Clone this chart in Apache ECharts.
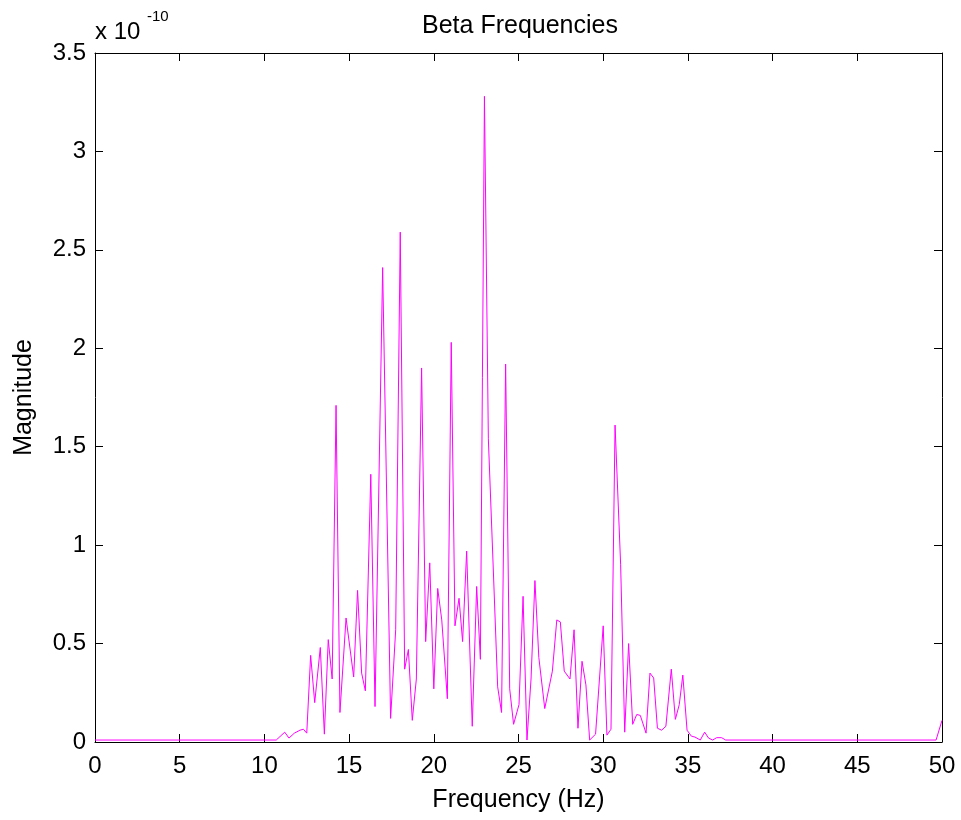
<!DOCTYPE html>
<html>
<head>
<meta charset="utf-8">
<title>Beta Frequencies</title>
<script src="https://cdn.jsdelivr.net/npm/echarts@6/dist/echarts.min.js"></script>
<style>
  html, body { margin: 0; padding: 0; background: #fff; }
  #chart { width: 961px; height: 820px; }
</style>
</head>
<body>
<div id="chart"></div>
<script>
// frequency (Hz)
let freqHz = [
  0, 10.7, 11.2, 11.45, 11.77, 12.1, 12.3, 12.5, 12.73, 12.97,
  13.3, 13.54, 13.77, 14.0, 14.23, 14.46, 14.82, 15.27, 15.5, 15.74,
  15.96, 16.28, 16.53, 16.98, 17.45, 17.75, 18.02, 18.28, 18.5, 18.73,
  18.97, 19.28, 19.52, 19.76, 20.0, 20.23, 20.47, 20.8, 21.03, 21.25,
  21.49, 21.7, 21.94, 22.27, 22.53, 22.75, 22.99, 23.22, 23.48, 23.77,
  24.0, 24.24, 24.48, 24.71, 25.03, 25.27, 25.5, 25.74, 25.97, 26.2,
  26.55, 27.0, 27.26, 27.47, 27.7, 28.04, 28.28, 28.51, 28.75, 28.98,
  29.2, 29.55, 30.0, 30.22, 30.46, 30.7, 31.03, 31.27, 31.5, 31.74,
  31.98, 32.19, 32.53, 32.76, 32.98, 33.2, 33.45, 33.7, 34.02, 34.26,
  34.49, 34.7, 34.95, 35.2, 35.42, 35.73, 35.99, 36.22, 36.46, 36.7,
  36.99, 37.23, 49.65, 50
];

// magnitude (x 10^-10)
let magnitude = [
  0.01, 0.01, 0.05, 0.02, 0.045, 0.06, 0.065, 0.045, 0.44, 0.2,
  0.48, 0.04, 0.52, 0.32, 1.71, 0.15, 0.63, 0.33, 0.77, 0.35,
  0.26, 1.36, 0.18, 2.41, 0.12, 0.57, 2.59, 0.37, 0.47, 0.11,
  0.32, 1.9, 0.51, 0.91, 0.27, 0.78, 0.62, 0.22, 2.03, 0.59,
  0.73, 0.51, 0.97, 0.08, 0.79, 0.42, 3.28, 1.54, 0.95, 0.28,
  0.15, 1.92, 0.27, 0.09, 0.19, 0.74, 0.01, 0.32, 0.82, 0.43,
  0.17, 0.36, 0.62, 0.61, 0.36, 0.32, 0.57, 0.07, 0.41, 0.29,
  0.01, 0.04, 0.59, 0.035, 0.065, 1.61, 0.9, 0.05, 0.5, 0.09,
  0.14, 0.135, 0.045, 0.35, 0.325, 0.07, 0.06, 0.08, 0.37, 0.115,
  0.19, 0.34, 0.06, 0.03, 0.025, 0.01, 0.05, 0.02, 0.01, 0.022,
  0.022, 0.01, 0.01, 0.11
];

// axis ranges
let xRange = { min: 0, max: 50, interval: 5 };
let yRange = { min: 0, max: 3.5, interval: 0.5 };

let font = "'Liberation Sans', Arial, Helvetica, sans-serif";

let chart = echarts.init(document.getElementById('chart'), null, { renderer: 'canvas' });

// pairs for the line
let lineData = freqHz.map((f, i) => [f, magnitude[i]]);

// one axis side, ticks inside
function makeAxis(base, showLabel, position, extra) {
  return Object.assign({
    type: 'value',
    position: position,
    min: base.min,
    max: base.max,
    interval: base.interval,
    splitLine: { show: false },
    axisLine: { show: true, onZero: false, lineStyle: { color: '#000', width: 1 } },
    axisTick: { show: true, inside: true, length: 8, lineStyle: { color: '#000', width: 1 } },
    axisLabel: { show: showLabel, color: '#000', fontSize: 24, fontFamily: font }
  }, extra || {});
}

let option = {
  backgroundColor: '#ffffff',
  animation: false,
  title: {
    text: 'Beta Frequencies',
    left: 515,
    top: 9,
    textAlign: 'center',
    textStyle: { color: '#000', fontSize: 25, fontWeight: 'normal', fontFamily: font }
  },
  grid: {
    left: 95,
    right: 19,
    top: 53,
    bottom: 78,
    containLabel: false,
    outerBoundsMode: 'none'
  },
  xAxis: [
    makeAxis(xRange, true, 'bottom', {
      name: 'Frequency (Hz)',
      nameLocation: 'middle',
      nameGap: 46,
      nameTextStyle: { color: '#000', fontSize: 25, fontFamily: font },
      axisLabel: { show: true, color: '#000', fontSize: 24, fontFamily: font, margin: 12 }
    }),
    makeAxis(xRange, false, 'top')
  ],
  yAxis: [
    makeAxis(yRange, true, 'left', {
      name: 'Magnitude',
      nameLocation: 'middle',
      nameGap: 58,
      nameTextStyle: { color: '#000', fontSize: 25, fontFamily: font },
      axisLabel: { show: true, color: '#000', fontSize: 24, fontFamily: font, margin: 9 }
    }),
    makeAxis(yRange, false, 'right')
  ],
  // exponent label at top left
  graphic: [
    {
      type: 'text',
      left: 95,
      top: 20,
      style: { text: 'x 10', fill: '#000', fontSize: 24, fontFamily: font }
    },
    {
      type: 'text',
      left: 147,
      top: 9,
      style: { text: '-10', fill: '#000', fontSize: 15, fontFamily: font }
    }
  ],
  series: [{
    type: 'line',
    data: lineData,
    showSymbol: false,
    symbol: 'none',
    lineStyle: { color: '#ff00ff', width: 1 },
    itemStyle: { color: '#ff00ff' },
    xAxisIndex: 0,
    yAxisIndex: 0
  }]
};

chart.setOption(option);
</script>
</body>
</html>
